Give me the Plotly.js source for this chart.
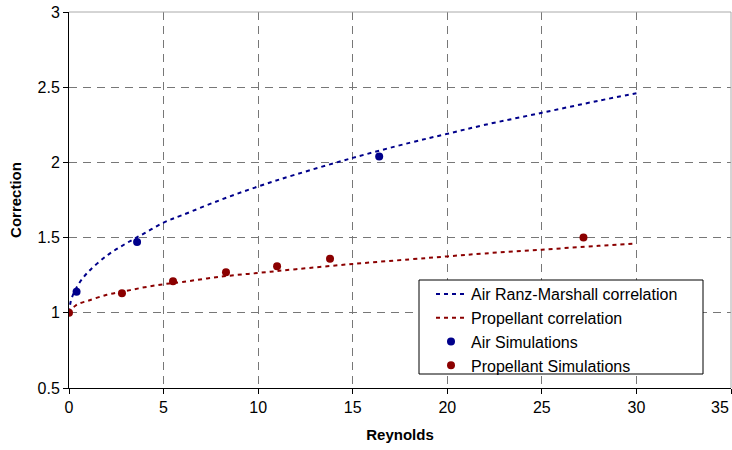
<!DOCTYPE html>
<html><head><meta charset="utf-8">
<script src="https://cdn.plot.ly/plotly-3.0.1.min.js"></script>
<style>html,body{margin:0;padding:0;background:#fff}#chart{width:732px;height:450px}</style>
</head><body><div id="chart"></div>
<script>
// Air Ranz-Marshall correlation
const airCorrX = [0, 0.1, 0.25, 0.5, 1, 2, 3, 4, 5, 6, 8, 10, 12, 15, 18, 20, 22, 25, 28, 30];
const airCorrY = [1.0, 1.08, 1.13, 1.19, 1.27, 1.38, 1.46, 1.53, 1.60, 1.65, 1.75, 1.84, 1.92, 2.03, 2.13, 2.19, 2.25, 2.33, 2.41, 2.46];
// Propellant correlation
const propCorrX = [0, 0.1, 0.25, 0.5, 1, 2, 3, 4, 5, 6, 8, 10, 12, 15, 18, 20, 22, 25, 28, 30];
const propCorrY = [1.0, 1.03, 1.04, 1.06, 1.08, 1.12, 1.145, 1.17, 1.19, 1.205, 1.24, 1.265, 1.29, 1.325, 1.355, 1.375, 1.395, 1.42, 1.445, 1.46];
// Simulations
const airSimX = [0.4, 3.6, 16.4];
const airSimY = [1.14, 1.47, 2.04];
const propSimX = [0, 2.8, 5.5, 8.3, 11, 13.8, 27.2];
const propSimY = [1.0, 1.13, 1.21, 1.27, 1.31, 1.36, 1.50];
// Tick labels
const xTickVals = [0, 5, 10, 15, 20, 25, 30, 35];
const xTickText = ['0', '5', '10', '15', '20', '25', '30', '35'];

const blue = '#00008B', red = '#8B0000';
const traces = [
  {x: airCorrX, y: airCorrY, mode: 'lines', name: 'Air Ranz-Marshall correlation',
   line: {color: blue, width: 2, dash: '4px,4px', shape: 'spline'}},
  {x: propCorrX, y: propCorrY, mode: 'lines', name: 'Propellant correlation',
   line: {color: red, width: 2, dash: '4px,4px', shape: 'spline'}},
  {x: airSimX, y: airSimY, mode: 'markers', name: 'Air Simulations',
   marker: {color: blue, size: 8}},
  {x: propSimX, y: propSimY, mode: 'markers', name: 'Propellant Simulations',
   marker: {color: red, size: 8}}
];
// last tick label is drawn as an annotation, right-aligned, so it stays inside the window
const lastIdx = xTickText.length - 1;
const xTickTextShown = xTickText.map((t, i) => i === lastIdx ? '' : t);
const gridDash = '8px,6px';
const L = 69, R = 1, T = 12, B = 62, W = 732, H = 450;
const pw = W - L - R, ph = H - T - B;
const px = v => (v - L) / pw, py = v => (H - B - v) / ph;
const layout = {
  width: W, height: H,
  margin: {l: L, r: R, t: T, b: B},
  paper_bgcolor: '#fff', plot_bgcolor: '#fff',
  font: {family: 'Liberation Sans, Arial, sans-serif', size: 16, color: '#000'},
  showlegend: true,
  legend: {x: px(431), y: py(277), xanchor: 'left', yanchor: 'top',
    bgcolor: 'rgba(0,0,0,0)', borderwidth: 0,
    font: {size: 16}, tracegroupgap: 0, itemwidth: 30},
  xaxis: {range: [0, 35], tickmode: 'array', tickvals: xTickVals, ticktext: xTickTextShown,
    showline: true, linecolor: '#000', linewidth: 1,
    ticks: 'outside', ticklen: 5, tickcolor: '#000',
    showgrid: true, gridcolor: '#777', griddash: gridDash, gridwidth: 1,
    zeroline: false, mirror: false,
    title: {text: '<b>Reynolds</b>', font: {size: 15}, standoff: 14}},
  yaxis: {range: [0.5, 3], dtick: 0.5, tick0: 0.5,
    showline: true, linecolor: '#000', linewidth: 1,
    ticks: 'outside', ticklen: 5, tickcolor: '#000',
    showgrid: true, gridcolor: '#777', griddash: gridDash, gridwidth: 1,
    zeroline: false,
    title: {text: '<b>Correction</b>', font: {size: 15}, standoff: 12}},
  annotations: [
    {x: xTickVals[lastIdx], xref: 'x', y: 0, yref: 'paper', text: xTickText[lastIdx],
     showarrow: false, xanchor: 'right', yanchor: 'top', yshift: -9, xshift: 0,
     font: {size: 16, color: '#000'}}
  ],
  shapes: [
    {type: 'line', xref: 'paper', yref: 'paper', x0: 0, x1: 1, y0: 1, y1: 1,
     line: {color: '#aaa', width: 1}},
    {type: 'line', xref: 'paper', yref: 'paper', x0: 1, x1: 1, y0: 0, y1: 1,
     line: {color: '#aaa', width: 1}},
    {type: 'rect', xref: 'paper', yref: 'paper', layer: 'above',
     x0: px(419), x1: px(703), y0: py(374), y1: py(280),
     fillcolor: '#fff', line: {color: '#000', width: 1}}
  ]
};
Plotly.newPlot('chart', traces, layout, {displayModeBar: false, staticPlot: true});
</script></body></html>
